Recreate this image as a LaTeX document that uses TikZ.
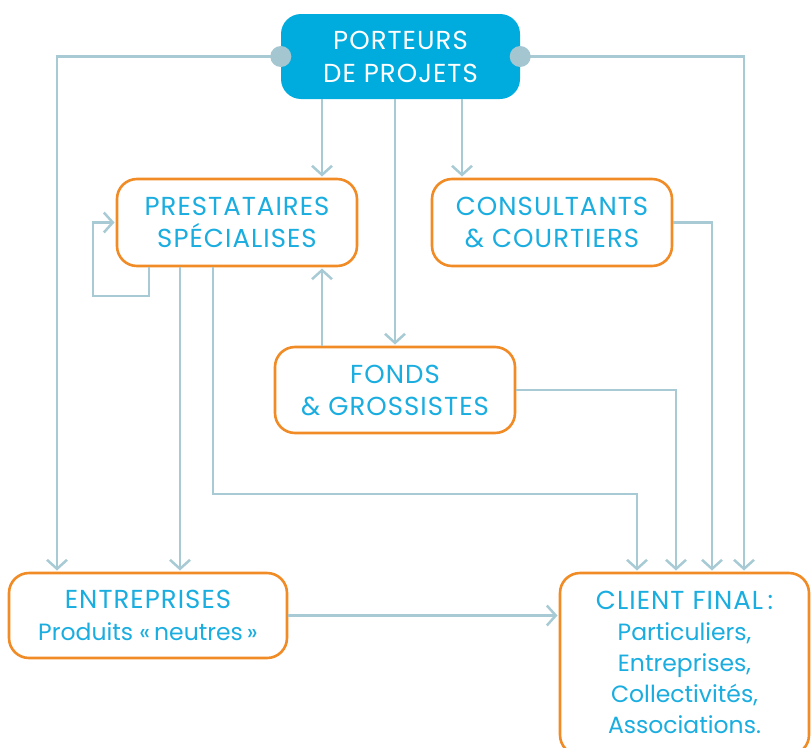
\documentclass[tikz,border=0pt]{standalone}
\usepackage{fontspec}
\setmainfont{Poppins}
\newfontfamily\capsfont{Poppins}[LetterSpace=4]
\usetikzlibrary{arrows.meta}
\definecolor{cyanfill}{HTML}{00ACDE}
\definecolor{cyantext}{HTML}{1AADE0}
\definecolor{orangeline}{HTML}{F18B25}
\definecolor{linkgray}{HTML}{A7CAD5}
\definecolor{dotgray}{HTML}{A3C6D0}
\newcommand{\capsline}[1]{{\capsfont\fontsize{26}{32}\selectfont #1}}
\begin{document}
\begin{tikzpicture}[x=1pt,y=-1pt,
  box/.style={draw=orangeline, line width=2.6pt, rounded corners=20pt, fill=white,
    text=cyantext, align=center, inner sep=0pt,
    font=\fontsize{23.5}{32}\selectfont},
  topbox/.style={fill=cyanfill, rounded corners=20pt, text=white, align=center,
    inner sep=0pt, font=\fontsize{23.5}{33}\selectfont,
    minimum width=239pt, minimum height=85pt},
  link/.style={draw=linkgray, line width=2.5pt},
  arr/.style={link, shorten >=1.2pt, -{Straight Barb[length=9pt,width=20pt]}},
  dot/.style={circle, fill=dotgray, minimum size=21pt, inner sep=0pt},
]
\useasboundingbox (0,0) rectangle (811,747);
\clip (0,0) rectangle (811,747);

% boxes
\node[topbox] (top) at (400.5,56.5) {\capsline{PORTEURS}\\\capsline{DE PROJETS}};
\node[box, minimum width=240pt, minimum height=87pt] (prest) at (237,222.5)
  {\capsline{PRESTATAIRES}\\\capsline{SPÉCIALISES}};
\node[box, minimum width=240pt, minimum height=87pt] (cons) at (552,222.5)
  {\capsline{CONSULTANTS}\\\capsline{\& COURTIERS}};
\node[box, minimum width=240pt, minimum height=86pt] (fonds) at (395,390)
  {\capsline{FONDS}\\\capsline{\& GROSSISTES}};
\node[box, minimum width=278pt, minimum height=85pt] (entr) at (148,615.5)
  {\capsline{ENTREPRISES}\\Produits «\,neutres\,»};
\node[box, minimum width=249pt, minimum height=182pt, font=\fontsize{23.5}{31}\selectfont,
  text depth=4pt] (client) at (684.5,664)
  {\capsline{CLIENT FINAL\,:}\\Particuliers,\\Entreprises,\\Collectivités,\\Associations.};

% column positions of the vertical runs
\coordinate (xa) at (322,0);
\coordinate (xb) at (395,0);
\coordinate (xc) at (462,0);
\coordinate (xl) at (57,0);
\coordinate (xr) at (744,0);
\coordinate (xe) at (180,0);
\coordinate (xs) at (149,0);
\coordinate (loop) at (93,296);
\coordinate (p2) at (213,494);
\coordinate (pc) at (637,494);
\coordinate (xf) at (676,0);
\coordinate (xk) at (712,0);

% links from the project owners
\draw[arr] (top.south -| xa) -- (prest.north -| xa);
\draw[arr] (top.south -| xb) -- (fonds.north -| xb);
\draw[arr] (top.south -| xc) -- (cons.north -| xc);
\draw[arr] (top.west) -| (entr.north -| xl);
\draw[arr] (top.east) -| (client.north -| xr);

% links from the specialised providers
\draw[arr] (prest.south -| xs) -- (xs |- loop) -- (loop) |- (prest.west);
\draw[arr] (prest.south -| xe) -- (entr.north -| xe);
\draw[arr] (prest.south -| p2) -- (p2) -- (pc) -- (client.north -| pc);

% other links
\draw[arr] (fonds.north -| xa) -- (prest.south -| xa);
\draw[arr] (fonds.east) -| (client.north -| xf);
\draw[arr] (cons.east) -| (client.north -| xk);
\draw[arr] (entr.east) -- (client.west |- entr.east);

% connection dots on the top box
\node[dot] (dl) at (top.west) {};
\node[dot] (dr) at (top.east) {};
\end{tikzpicture}
\end{document}
